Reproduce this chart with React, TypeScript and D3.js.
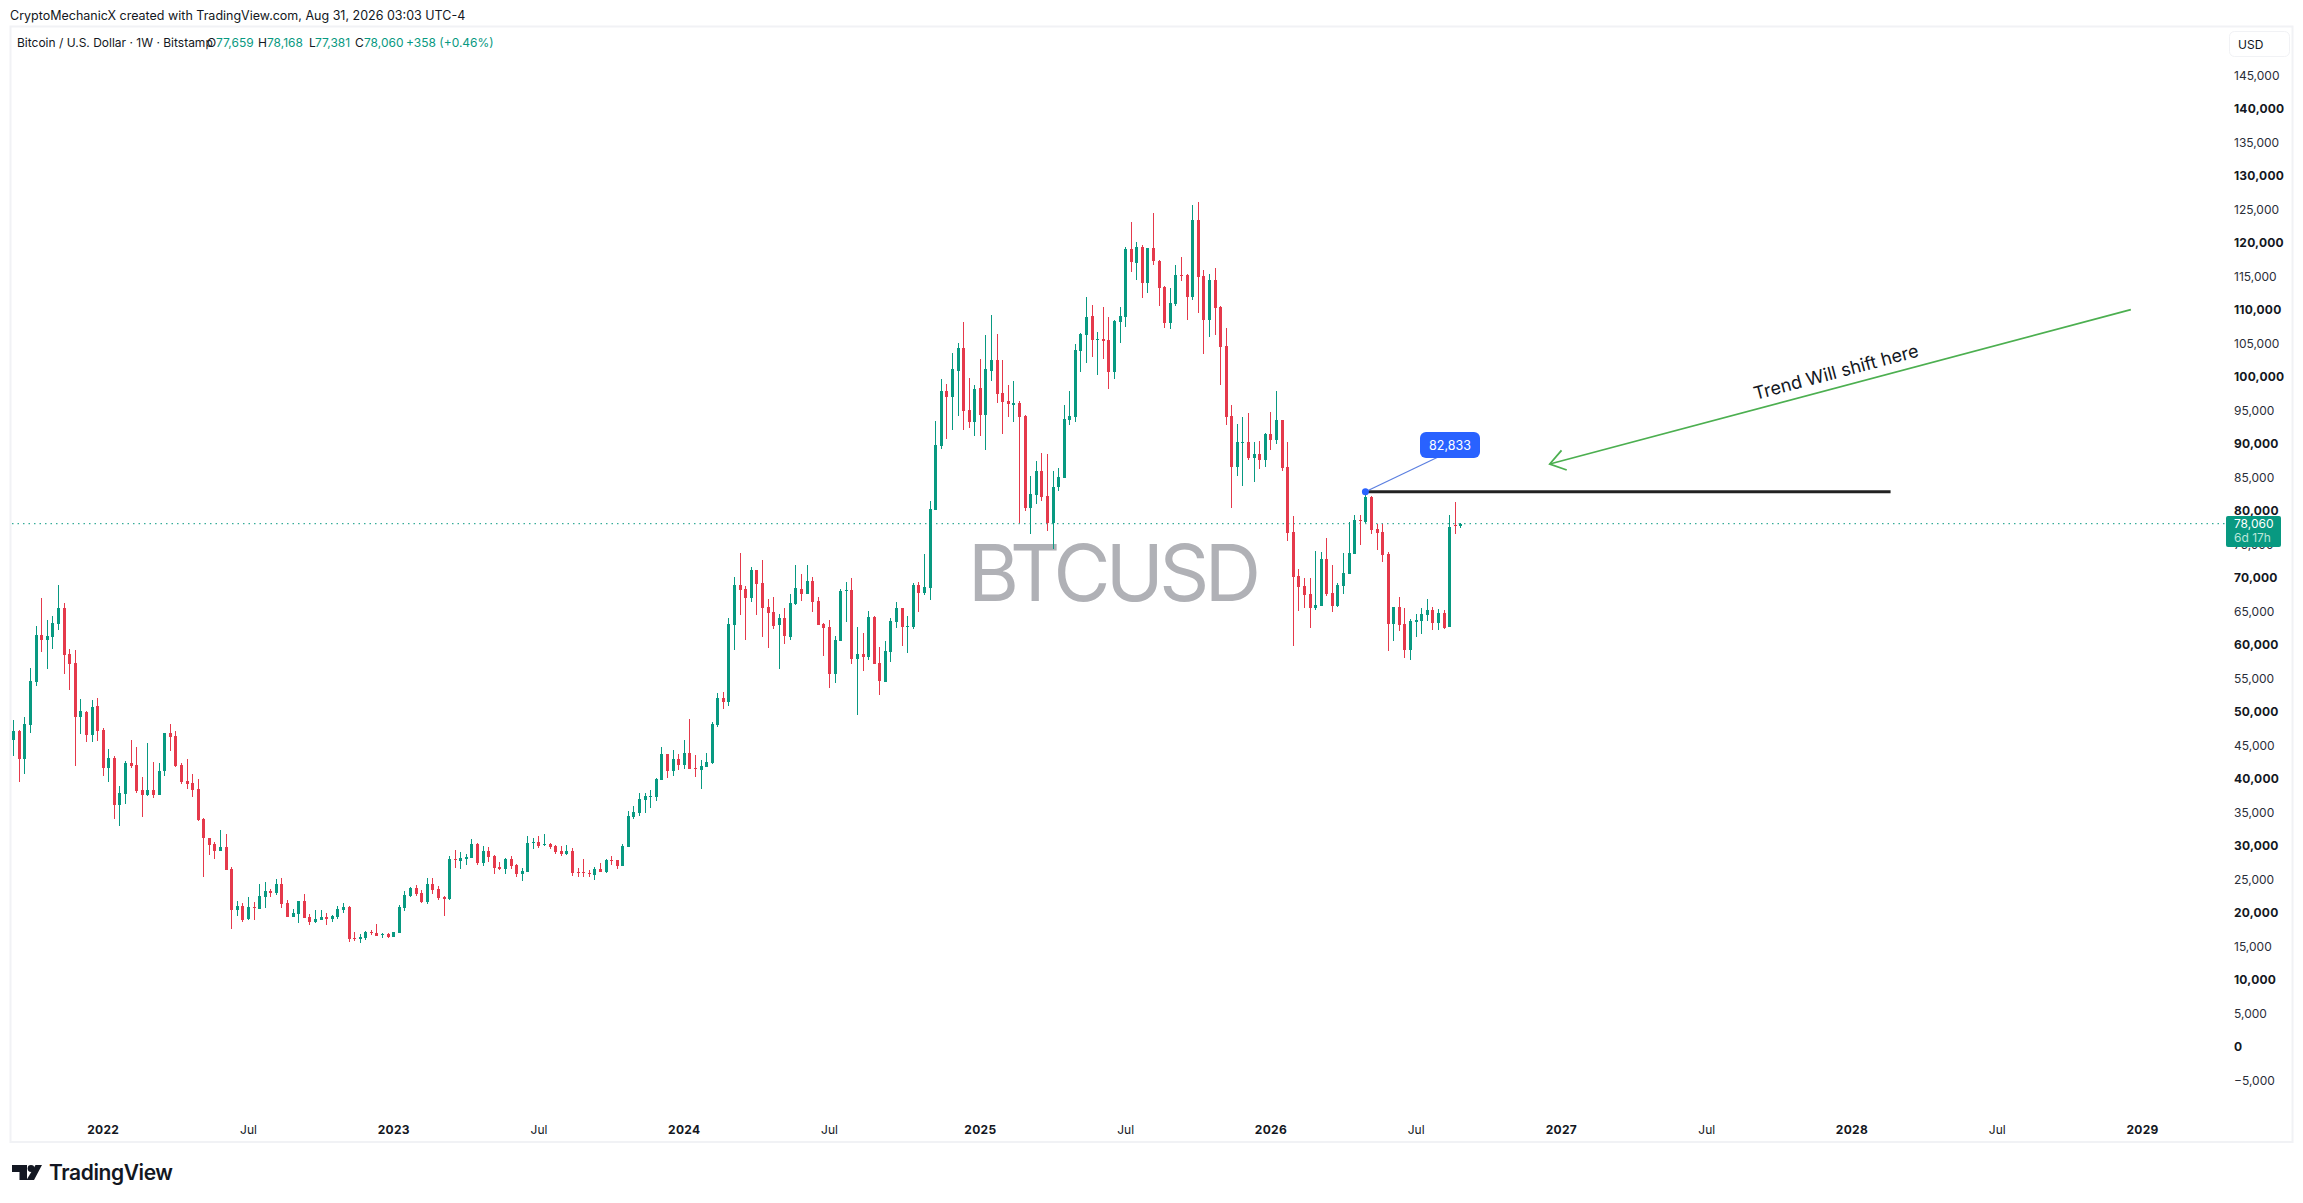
import { useRef, useEffect } from 'react';
import * as d3 from 'd3';

// Weekly candles, first one is the week of 2021-09-13
const firstWeek = new Date("2021-09-13");

const opens = [
  45780,47120,42940,48010,54430,61450,60700,61150,63090,65480,
  58610,57270,49210,49950,46520,50850,47270,41600,43090,36070,
  37720,42340,42040,38310,37570,38310,37570,41150,46820,46370,
  42040,39660,39360,38460,33980,31150,30250,29210,29810,26520,
  20400,21000,19060,20850,20550,22340,23240,22890,24280,21450,
  19360,19810,21750,19360,18610,18910,19360,19060,19360,20400,
  20850,16220,16070,16220,17120,16970,16670,16820,16370,16970,
  20700,22490,23690,22940,21600,24280,23540,22340,22050,28020,
  27720,28020,28160,30250,27420,29210,28460,26820,26520,28020,
  27120,25780,26080,30400,30550,30100,30250,29960,29210,28760,
  29210,26080,26080,25930,25630,26520,26080,27870,27870,26970,
  29810,34280,34880,36820,37270,37270,39810,43690,41150,42940,
  42050,43840,41600,41300,41750,42340,48020,52050,51450,62940,
  68910,68310,66970,71150,69210,65630,64880,62940,63990,61150,
  66080,68310,67570,69510,66520,63090,62640,55630,60550,68020,
  68160,57870,58610,58160,64140,57270,54430,58910,63390,65480,
  62640,62640,68910,67720,68460,80110,89660,97870,96970,100850,
  104280,95030,93240,98310,94280,100850,102490,97570,96370,95780,
  96080,94140,80400,82340,85930,82200,78170,83540,84880,93540,
  93990,103840,106230,109060,105480,105630,105480,100700,108170,108910,
  119060,116970,119360,113990,119210,117270,113390,108020,110850,115180,
  115180,111900,123390,115030,108460,114430,110400,104580,94140,86520,
  90110,90260,87870,88460,87570,91450,90550,93540,86520,76820,
  70250,68760,67570,65480,65780,72790,67720,65780,68760,70550,
  73540,78610,78310,82050,77270,76820,73540,63090,65630,63090,
  59210,63390,63540,64430,65180,63240,64730,62640,77900,77659,
];

const highs = [
  48760,47220,49160,56520,62790,66970,63690,64280,68910,66220,
  59360,59210,51890,50100,51750,52040,47570,44430,43390,38910,
  42640,45780,44730,40250,45330,42490,42340,46820,48160,47120,
  42340,42940,40700,39950,34130,31150,30550,32340,31750,26820,
  21750,21450,22340,21600,24280,24580,23540,25030,25180,21900,
  20550,21750,22790,19810,20400,20400,19960,19660,21000,21450,
  21000,17120,16820,17270,17420,18310,16970,16970,17120,21150,
  23240,23840,24140,23390,25180,25180,23990,22490,28460,29360,
  29060,28760,31000,30400,29960,29810,28610,27570,28160,28460,
  27270,26670,31450,31150,31450,31750,30400,30100,29960,30100,
  29660,26670,28020,26370,26820,27420,28020,28460,27870,30250,
  35180,35930,37870,37870,38310,40100,44730,43690,44280,43690,
  45780,48910,43540,42790,43840,48460,52790,52940,63990,70110,
  73690,68760,71600,71150,72640,66820,67120,64580,65480,67570,
  71900,70550,71900,70110,67120,63240,63690,61300,68310,69360,
  69960,62640,61750,65030,64280,59660,60550,63990,66370,65480,
  64280,69210,69360,73540,81450,93390,99660,98910,103540,105030,
  108160,99810,98760,102640,106220,109210,106370,102490,98760,99360,
  96370,94280,85180,87420,88610,88460,85930,86370,95780,97870,
  104880,106520,111900,110700,106670,110400,108910,108460,110400,119360,
  123090,120110,119660,119210,124430,117420,113540,113240,116670,117870,
  115330,125630,126080,115930,115330,116220,110550,107270,95780,92940,
  93990,94580,90260,90400,91600,94730,97870,93540,90250,79210,
  71300,69960,69960,73990,73840,75930,71900,69210,73690,78310,
  79360,79360,82833,82190,78020,78020,73840,65630,67120,65480,
  63840,64580,65480,66820,65630,65330,65180,79360,81300,78168,
];

const lows = [
  43390,39560,40700,46820,53830,58910,56370,59360,62190,55630,
  53240,41890,46670,45480,45480,45630,40400,39510,33980,32940,
  36220,41600,37870,34280,37420,37120,37570,40400,44130,41750,
  39210,38460,37270,33690,25330,28610,28010,29210,26370,17570,
  19510,18610,18910,18910,20550,20700,22340,22640,20700,19360,
  19360,18460,19210,18160,18460,18910,18160,18610,19060,19960,
  15630,15780,15480,15930,16670,16520,16220,16220,16370,16970,
  20250,22340,22490,21450,21300,22790,21900,19510,21900,26670,
  26520,27120,28160,27120,26970,27570,25780,26370,25780,26520,
  25330,24730,26080,29510,29660,29960,29510,28760,28460,28610,
  25480,25330,25330,25330,24880,26080,25930,27120,26520,26970,
  29810,33990,34430,34880,35630,36670,39810,40100,40400,41300,
  41450,41450,40250,38460,41750,42190,47720,50400,50850,59210,
  64430,60700,66370,64430,61150,59510,62340,56370,60110,60700,
  65930,66520,67570,64880,62940,58310,53540,54280,60550,63390,
  57120,49510,56080,57720,57120,52490,54430,57420,62490,59810,
  58760,62340,64880,67420,66670,80110,89210,90700,92050,94140,
  92050,92340,91150,91150,89060,99360,96080,91450,93990,93240,
  78170,79960,76520,81000,81450,76970,74290,82940,84880,92790,
  93240,100700,102050,102940,100260,102640,98170,99660,105030,107420,
  115630,114430,111750,112490,116670,110550,107270,107120,110550,114280,
  108460,111450,109510,103390,105930,106230,98760,92790,80400,85180,
  83690,87570,84290,86230,86520,89060,89960,85930,75480,59810,
  65030,65480,62490,65180,65780,67270,64880,65630,67570,70550,
  73540,74880,78160,76520,74130,72340,59060,60550,62050,58020,
  57720,61150,61600,63540,62190,62190,62340,62640,76520,77381,
];

const closes = [
  47120,42940,48160,54580,61450,60700,61300,63240,65480,58460,
  57120,49210,50100,46520,50700,47120,41600,43090,36070,37870,
  42340,41890,38160,37570,38310,37570,41150,46820,46220,41890,
  39510,39210,38310,33840,31150,30100,29210,29810,26370,20400,
  21000,18910,20850,20700,22490,23240,22940,24280,21300,19360,
  19960,21750,19210,18610,19060,19360,19060,19510,20550,20850,
  16070,16070,16370,17120,16970,16520,16820,16370,17070,20850,
  22640,23690,22790,21600,24280,23390,22190,22050,28020,27870,
  28160,28310,30250,27420,29210,28310,26670,26520,28020,26970,
  25780,26220,30400,30550,29960,30250,29810,29060,28760,29210,
  25930,25930,25930,25780,26520,26080,27870,27720,26970,29960,
  34430,35030,36970,37420,37420,39960,43690,41150,42940,42050,
  43840,41450,41450,41900,42490,48160,52050,51450,63090,68910,
  68160,66970,71150,69060,65480,64730,62790,63990,61300,66220,
  68460,67570,69510,66370,62940,62490,55630,60700,68020,68160,
  57870,58610,58160,64140,57120,54580,59060,63540,65480,62640,
  62790,68910,67720,68610,80260,89810,97870,96970,101150,104280,
  94880,93240,98170,94280,101150,102490,97420,96220,95930,96080,
  93990,80400,82490,85930,82050,78170,83540,85030,93690,94140,
  103990,106370,108910,105480,105630,105330,100700,108310,109060,119060,
  117120,119360,113990,119210,117270,113240,108020,111000,115180,115030,
  111900,123390,114880,108460,114430,110250,104430,93990,86520,90260,
  90260,87870,88460,87570,91450,90550,93540,86370,76670,70110,
  68610,67420,65480,65930,72790,67570,65780,68910,70700,73690,
  78610,78460,82050,77120,76670,73390,63090,65630,62940,59210,
  63540,63690,64580,65180,63240,64730,62490,77570,77659,78060,
];

const priceTicks = d3.range(-5000, 145001, 5000);
const timeTickDates = [
  "2022-01-03","2022-07-04","2023-01-02","2023-07-03","2024-01-01","2024-07-01","2025-01-06","2025-07-07",
  "2026-01-05","2026-07-06","2027-01-04","2027-07-05","2028-01-03","2028-07-03","2029-01-01",
];
const timeTickLabels = ["2022","Jul","2023","Jul","2024","Jul","2025","Jul","2026","Jul","2027","Jul","2028","Jul","2029"];

const lastPrice = 78060;
const lastWeekIndex = 259;
const levelPrice = 82833;
const levelStartWeek = 242;
const levelEndWeek = 336;
const calloutWeek = 251;
const calloutPrice = 90150;
const arrowTailWeek = 379;
const arrowTailPrice = 110000;
const arrowHeadWeek = 275;
const arrowHeadPrice = 86970;

const GREEN = "#089981";
const RED = "#E5394B";
const FONT = "Inter, 'Noto Sans', sans-serif";

const legendParts = [
  { x: 17, text: "Bitcoin / U.S. Dollar · 1W · Bitstamp", fill: "#131722" },
  { x: 207, text: "O", fill: "#131722" },
  { x: 216, text: "77,659", fill: GREEN },
  { x: 258, text: "H", fill: "#131722" },
  { x: 267, text: "78,168", fill: GREEN },
  { x: 309, text: "L", fill: "#131722" },
  { x: 315, text: "77,381", fill: GREEN },
  { x: 355, text: "C", fill: "#131722" },
  { x: 364, text: "78,060", fill: GREEN },
  { x: 406, text: "+358 (+0.46%)", fill: GREEN },
];

export default function App() {
  const svgRef = useRef<SVGSVGElement>(null);

  useEffect(() => {
    if (!svgRef.current) return;
    const svg = d3.select(svgRef.current);
    svg.selectAll("*").remove();

    const x = d3.scaleUtc()
      .domain([firstWeek, d3.utcMonday.offset(firstWeek, 381)])
      .range([13.3, 2142]);
    const y = d3.scaleLinear().domain([0, 140000]).range([1046.7, 108.7]);
    const weekX = (i: number) => x(d3.utcMonday.offset(firstWeek, i));

    // Pane frame
    svg.append("rect").attr("width", 2303).attr("height", 1203).attr("fill", "#fff");
    svg.append("rect")
      .attr("x", 10.5).attr("y", 26.5).attr("width", 2282).attr("height", 1115.5)
      .attr("fill", "none").attr("stroke", "#f1f2f5").attr("stroke-width", 2);

    // Watermark sits under the candles
    svg.append("text")
      .attr("x", 968).attr("y", 601)
      .style("font-family", FONT).style("font-size", "78px").style("letter-spacing", "-4.6px")
      .style("fill", "#b0b1b6")
      .text("BTCUSD");

    // Last price line
    svg.append("line")
      .attr("x1", 12).attr("x2", 2226)
      .attr("y1", y(lastPrice)).attr("y2", y(lastPrice))
      .attr("stroke", GREEN).attr("stroke-width", 1).attr("stroke-dasharray", "1.5 4");

    // Candles
    const candles = svg.append("g").selectAll("g")
      .data(opens.map((o, i) => ({ i, o, h: highs[i], l: lows[i], c: closes[i] })))
      .enter()
      .append("g")
      .attr("fill", d => d.c >= d.o ? GREEN : RED)
      .attr("shape-rendering", "crispEdges");

    candles.append("rect")
      .attr("x", d => Math.round(weekX(d.i)))
      .attr("width", 1)
      .attr("y", d => y(d.h))
      .attr("height", d => y(d.l) - y(d.h));

    candles.append("rect")
      .attr("x", d => Math.round(weekX(d.i)) - 1)
      .attr("width", 3)
      .attr("y", d => y(Math.max(d.o, d.c)))
      .attr("height", d => Math.max(1, Math.abs(y(d.o) - y(d.c))));

    // Price axis
    const yAxis = svg.append("g")
      .attr("transform", "translate(2234,0)")
      .call(d3.axisRight(y)
        .tickValues(priceTicks)
        .tickSize(0)
        .tickPadding(0)
        .tickFormat(d3.format(",") as any));
    yAxis.select(".domain").remove();
    yAxis.selectAll<SVGTextElement, number>("text")
      .style("font-family", FONT)
      .style("font-size", "12px")
      .style("font-weight", d => d % 10000 === 0 ? "700" : "400")
      .style("letter-spacing", d => d % 10000 === 0 ? "0.2px" : "0")
      .style("fill", d => d % 10000 === 0 ? "#131722" : "#2a2e39");

    // Time axis
    const timeDates = timeTickDates.map(d => new Date(d));
    const xAxis = svg.append("g")
      .attr("transform", "translate(0,1125)")
      .call(d3.axisBottom(x)
        .tickValues(timeDates)
        .tickSize(0)
        .tickPadding(0)
        .tickFormat((_, i) => timeTickLabels[i]));
    xAxis.select(".domain").remove();
    xAxis.selectAll<SVGTextElement, Date>("text")
      .style("font-family", FONT)
      .style("font-size", "12px")
      .style("font-weight", (_, i) => timeTickLabels[i] === "Jul" ? "400" : "700")
      .style("letter-spacing", (_, i) => timeTickLabels[i] === "Jul" ? "0" : "0.3px")
      .style("fill", "#131722");

    // USD box
    svg.append("rect")
      .attr("x", 2229.5).attr("y", 31.5).attr("width", 60).attr("height", 25).attr("rx", 5)
      .attr("fill", "#fff").attr("stroke", "#f1f2f5");
    svg.append("text")
      .attr("x", 2238).attr("y", 48.5)
      .style("font-family", FONT).style("font-size", "12px").style("fill", "#131722")
      .text("USD");

    // Last price tag
    svg.append("rect")
      .attr("x", 2226).attr("y", 516).attr("width", 55).attr("height", 31).attr("rx", 2)
      .attr("fill", GREEN);
    svg.append("text")
      .attr("x", 2234).attr("y", 528)
      .style("font-family", FONT).style("font-size", "12px").style("fill", "#fff")
      .text(d3.format(",")(lastPrice));
    svg.append("text")
      .attr("x", 2234).attr("y", 541.5)
      .style("font-family", FONT).style("font-size", "12px").style("fill", "#b9e6da")
      .text("6d 17h");

    // Horizontal level
    svg.append("line")
      .attr("x1", weekX(levelStartWeek)).attr("x2", weekX(levelEndWeek))
      .attr("y1", y(levelPrice)).attr("y2", y(levelPrice))
      .attr("stroke", "#222").attr("stroke-width", 3);

    // Price callout
    const calloutX = weekX(calloutWeek + 4);
    svg.append("line")
      .attr("x1", weekX(levelStartWeek)).attr("y1", y(levelPrice))
      .attr("x2", calloutX + 30).attr("y2", y(calloutPrice))
      .attr("stroke", "#5b7fe0").attr("stroke-width", 1.2);
    svg.append("circle")
      .attr("cx", weekX(levelStartWeek)).attr("cy", y(levelPrice)).attr("r", 3.5)
      .attr("fill", "#2962ff");
    svg.append("rect")
      .attr("x", 1420).attr("y", 432).attr("width", 60).attr("height", 26).attr("rx", 6)
      .attr("fill", "#2962ff");
    svg.append("text")
      .attr("x", 1450).attr("y", 449.5).attr("text-anchor", "middle")
      .style("font-family", FONT).style("font-size", "12.5px").style("fill", "#fff")
      .text(d3.format(",")(levelPrice));

    // Trend arrow
    const tailX = weekX(arrowTailWeek), tailY = y(arrowTailPrice);
    const headX = weekX(arrowHeadWeek), headY = y(arrowHeadPrice);
    const angle = Math.atan2(tailY - headY, tailX - headX);
    const barb = (da: number) => [headX + 18 * Math.cos(angle + da), headY + 18 * Math.sin(angle + da)] as [number, number];
    const arrowLine = d3.line();
    svg.append("path")
      .attr("d", arrowLine([[tailX, tailY], [headX, headY]]))
      .attr("fill", "none").attr("stroke", "#4caf50").attr("stroke-width", 1.8);
    svg.append("path")
      .attr("d", arrowLine([barb(0.6), [headX, headY], barb(-0.6)]))
      .attr("fill", "none").attr("stroke", "#4caf50").attr("stroke-width", 1.8);
    svg.append("text")
      .attr("transform", `translate(1836,372) rotate(${(angle * 180) / Math.PI})`)
      .attr("text-anchor", "middle").attr("dy", "0.35em")
      .style("font-family", FONT).style("font-size", "18px").style("fill", "#131722")
      .text("Trend Will shift here");

    // Header and legend
    svg.append("text")
      .attr("x", 10).attr("y", 19.5)
      .style("font-family", FONT).style("font-size", "12.5px").style("fill", "#131722")
      .text("CryptoMechanicX created with TradingView.com, Aug 31, 2026 03:03 UTC-4");
    svg.append("g").selectAll("text")
      .data(legendParts)
      .enter()
      .append("text")
      .attr("x", d => d.x).attr("y", 46.5)
      .style("font-family", FONT).style("font-size", "12px")
      .style("fill", d => d.fill)
      .text(d => d.text);

    // TradingView logo
    const logo = svg.append("g").attr("fill", "#131722");
    logo.append("path").attr("d", "M12 1165H27V1180H19.5V1172H12Z");
    logo.append("circle").attr("cx", 31).attr("cy", 1168.5).attr("r", 3.4);
    logo.append("path").attr("d", "M35.5 1165H42L34 1180H26.5Z");
    logo.append("text")
      .attr("x", 49).attr("y", 1180)
      .style("font-family", FONT).style("font-size", "21px").style("font-weight", "600")
      .style("letter-spacing", "-0.4px")
      .text("TradingView");
  }, []);

  return (
    <div style={{ position: "absolute", left: 0, top: 0 }}>
      <svg ref={svgRef} width={2303} height={1203} style={{ display: "block" }} />
    </div>
  );
}
